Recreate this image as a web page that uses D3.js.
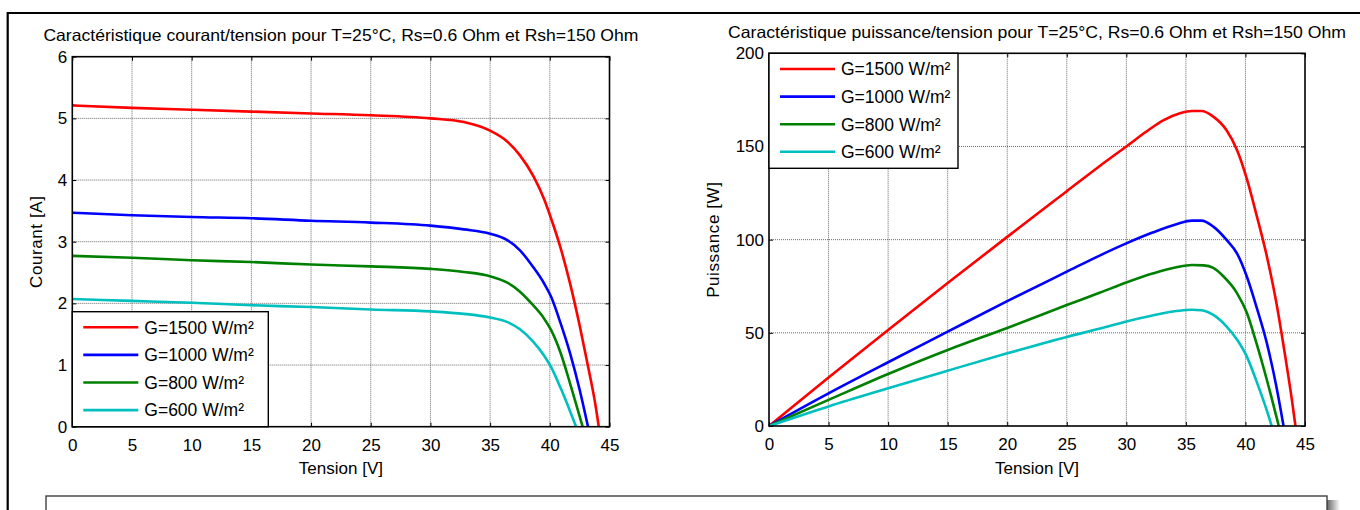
<!DOCTYPE html>
<html>
<head>
<meta charset="utf-8">
<script src="https://cdn.jsdelivr.net/npm/d3@7"></script>
<style>
	body { margin: 0; background: #fff; }
	svg { display: block; }
	text { font-family: "Liberation Sans", Arial, sans-serif; fill: #000; }
	.grid line { stroke: #6a6a6a; stroke-width: 1; stroke-dasharray: 1,1; }
	.tick line { stroke: #000; }
</style>
</head>
<body>
<svg id="fig" width="1360" height="510"></svg>
<script>
// Tension [V] / Courant [A]
let iv1500 = [[0,5.21],[5,5.17],[10,5.14],[15,5.11],[20,5.08],[25,5.05],[30,5.0],[32.8,4.94],[35,4.8],[36.4,4.63],[37.5,4.4],[38.6,4.07],[39.5,3.7],[40.1,3.38],[40.9,2.9],[41.7,2.32],[42.5,1.64],[43.2,0.98],[43.8,0.38],[44.1,0]];
let iv1000 = [[0,3.47],[5,3.43],[10,3.4],[15,3.38],[20,3.34],[25,3.31],[30,3.26],[32.8,3.2],[35,3.13],[36.4,3.03],[37.5,2.86],[38.6,2.59],[39.5,2.33],[40.1,2.11],[40.9,1.68],[41.7,1.19],[42.5,0.6],[43.2,0]];
let iv800 = [[0,2.77],[5,2.74],[10,2.7],[15,2.67],[20,2.63],[25,2.6],[30,2.56],[32.8,2.51],[35,2.44],[36.4,2.34],[37.5,2.19],[38.6,1.97],[39.5,1.76],[40.1,1.57],[40.9,1.2],[41.7,0.7],[42.3,0.3],[42.75,0]];
let iv600 = [[0,2.07],[5,2.04],[10,2.01],[15,1.97],[20,1.94],[25,1.9],[30,1.87],[32.8,1.83],[35,1.77],[36.4,1.7],[37.5,1.58],[38.6,1.38],[39.5,1.16],[40.1,0.97],[40.9,0.63],[41.6,0.3],[42.2,0]];

// Tension [V] / Puissance [W]
let pv1500 = [[0,0],[5,26],[10,51.5],[15,76.7],[20,101.5],[25,126],[27.8,139.7],[30,150],[31.6,157.6],[33.1,164],[34.5,167.8],[35.5,169],[36.3,169],[37.3,166],[38.4,158.8],[39.3,148],[40.1,133],[40.9,114],[41.8,91],[42.6,66],[43.3,39],[43.9,14],[44.2,0]];
let pv1000 = [[0,0],[5,17.5],[10,34.2],[15,50.6],[20,67],[25,82.8],[27.8,91.6],[30,98],[32.2,103.8],[34.2,108.3],[35.5,110.2],[36.3,110.2],[37.3,107],[38.4,100],[39.3,92.5],[40.1,80.5],[40.9,64.5],[41.8,44.4],[42.6,21.1],[43.2,0]];
let pv800 = [[0,0],[5,14],[10,27.9],[15,40.8],[20,52.6],[25,64.9],[27.8,71.6],[30,77],[32.2,81.8],[34.2,85.2],[35.5,86.4],[36.5,86.2],[37.3,84.8],[38.1,80.6],[39.3,71.2],[40.1,61],[40.9,45],[41.8,24.7],[42.6,5],[42.8,0]];
let pv600 = [[0,0],[5,10.5],[10,20.2],[15,29.7],[20,39],[25,47.8],[27.8,52.3],[30,56.1],[32.2,59.3],[34.2,61.7],[35.5,62.4],[36.3,62.1],[37.3,59.6],[38.4,53.5],[39.3,46.3],[40.1,37.5],[40.9,24.5],[41.8,8.2],[42.2,0]];

let labels = ["G=1500 W/m²", "G=1000 W/m²", "G=800 W/m²", "G=600 W/m²"];
let colors = ["#ff0000", "#0000ff", "#008000", "#00bfbf"];
let xTicks = [0,5,10,15,20,25,30,35,40,45];
let iTicks = [0,1,2,3,4,5,6];
let pTicks = [0,50,100,150,200];

let svg = d3.select("#fig");

// cadre extérieur
svg.append("path")
	.attr("d", "M7.7,510 V13 H1360")
	.attr("fill", "none")
	.attr("stroke", "#000")
	.attr("stroke-width", 2.2);

function drawPanel(cfg) {
	let x = d3.scaleLinear().domain([0, 45]).range([cfg.left, cfg.right]);
	let y = d3.scaleLinear().domain(cfg.ydomain).range([cfg.bottom, cfg.top]);
	let g = svg.append("g");

	// grille
	let grid = g.append("g").attr("class", "grid");
	grid.selectAll("line.v")
		.data(xTicks.slice(1, -1))
		.enter().append("line")
		.attr("x1", (d) => x(d)).attr("x2", (d) => x(d))
		.attr("y1", cfg.top).attr("y2", cfg.bottom);
	grid.selectAll("line.h")
		.data(cfg.yticks.slice(1, -1))
		.enter().append("line")
		.attr("y1", (d) => y(d)).attr("y2", (d) => y(d))
		.attr("x1", cfg.left).attr("x2", cfg.right);

	// courbes
	let line = d3.line()
		.x((d) => x(d[0]))
		.y((d) => y(d[1]))
		.curve(d3.curveMonotoneX);
	g.selectAll("path.serie")
		.data(cfg.series)
		.enter().append("path")
		.attr("class", "serie")
		.attr("d", line)
		.attr("fill", "none")
		.attr("stroke", (d, i) => colors[i])
		.attr("stroke-width", 2.6)
		.attr("stroke-linejoin", "round");

	// axes (graduations vers l'intérieur)
	let fs = "17px";
	let fmt = d3.format("d");
	let ax = g.append("g").attr("transform", "translate(0," + cfg.bottom + ")")
		.call(d3.axisBottom(x).tickValues(xTicks).tickFormat(fmt).tickSizeInner(-4).tickSizeOuter(0).tickPadding(12));
	ax.selectAll("text").style("font-size", fs);
	let ay = g.append("g").attr("transform", "translate(" + cfg.left + ",0)")
		.call(d3.axisLeft(y).tickValues(cfg.yticks).tickFormat(fmt).tickSizeInner(-4).tickSizeOuter(0).tickPadding(5));
	ay.selectAll("text").style("font-size", fs);
	g.append("g").attr("transform", "translate(0," + cfg.top + ")")
		.call(d3.axisTop(x).tickValues(xTicks).tickSizeInner(-4).tickSizeOuter(0).tickFormat(""));
	g.append("g").attr("transform", "translate(" + cfg.right + ",0)")
		.call(d3.axisRight(y).tickValues(cfg.yticks).tickSizeInner(-4).tickSizeOuter(0).tickFormat(""));
	g.selectAll(".domain").remove();

	g.append("rect")
		.attr("x", cfg.left).attr("y", cfg.top)
		.attr("width", cfg.right - cfg.left).attr("height", cfg.bottom - cfg.top)
		.attr("fill", "none").attr("stroke", "#000").attr("stroke-width", 1.6);

	// titres
	g.append("text")
		.attr("x", (cfg.left + cfg.right) / 2).attr("y", cfg.titleY)
		.attr("text-anchor", "middle")
		.style("font-size", "16.5px")
		.attr("textLength", cfg.titleLen).attr("lengthAdjust", "spacingAndGlyphs")
		.text(cfg.title);
	g.append("text")
		.attr("x", (cfg.left + cfg.right) / 2).attr("y", 474)
		.attr("text-anchor", "middle")
		.style("font-size", fs)
		.text("Tension [V]");
	g.append("text")
		.attr("transform", "translate(" + cfg.ylabelX + "," + ((cfg.top + cfg.bottom) / 2) + ") rotate(-90)")
		.attr("text-anchor", "middle")
		.style("font-size", fs)
		.style("letter-spacing", "0.6px")
		.text(cfg.ylabel);

	// légende
	let lg = cfg.legend;
	g.append("rect")
		.attr("x", lg.x).attr("y", lg.y)
		.attr("width", lg.w).attr("height", lg.h)
		.attr("fill", "#fff").attr("stroke", "#000").attr("stroke-width", 1.4);
	let items = g.selectAll("g.item")
		.data(labels)
		.enter().append("g")
		.attr("class", "item")
		.attr("transform", (d, i) => "translate(0," + (lg.y0 + i * lg.step) + ")");
	items.append("line")
		.attr("x1", lg.x + 11).attr("x2", lg.x + 66)
		.attr("stroke", (d, i) => colors[i])
		.attr("stroke-width", 2.6);
	items.append("text")
		.attr("x", lg.x + 72).attr("dy", "0.36em")
		.style("font-size", "17.5px")
		.text((d) => d);
}

drawPanel({
	left: 72.3, right: 609.5, top: 56.7, bottom: 426.7,
	ydomain: [0, 6], yticks: iTicks,
	series: [iv1500, iv1000, iv800, iv600],
	title: "Caractéristique courant/tension pour T=25°C, Rs=0.6 Ohm et Rsh=150 Ohm",
	titleY: 41, titleLen: 595,
	ylabel: "Courant [A]", ylabelX: 41.5,
	legend: {x: 72.3, y: 311.7, w: 196, h: 115, y0: 327.3, step: 27.6}
});

drawPanel({
	left: 769, right: 1305, top: 53.3, bottom: 426,
	ydomain: [0, 200], yticks: pTicks,
	series: [pv1500, pv1000, pv800, pv600],
	title: "Caractéristique puissance/tension pour T=25°C, Rs=0.6 Ohm et Rsh=150 Ohm",
	titleY: 38.3, titleLen: 618,
	ylabel: "Puissance [W]", ylabelX: 718.5,
	legend: {x: 769, y: 53.3, w: 189, h: 115, y0: 69, step: 27.6}
});

// encadré du bas avec ombre
let defs = svg.append("defs");
let grad = defs.append("linearGradient").attr("id", "ombre");
grad.append("stop").attr("offset", "0%").attr("stop-color", "#666");
grad.append("stop").attr("offset", "100%").attr("stop-color", "#fff");
svg.append("rect")
	.attr("x", 1327).attr("y", 500).attr("width", 13).attr("height", 20)
	.attr("fill", "url(#ombre)");
svg.append("rect")
	.attr("x", 46).attr("y", 496).attr("width", 1281).attr("height", 40)
	.attr("fill", "#fff").attr("stroke", "#404040").attr("stroke-width", 1.4);
</script>
</body>
</html>
